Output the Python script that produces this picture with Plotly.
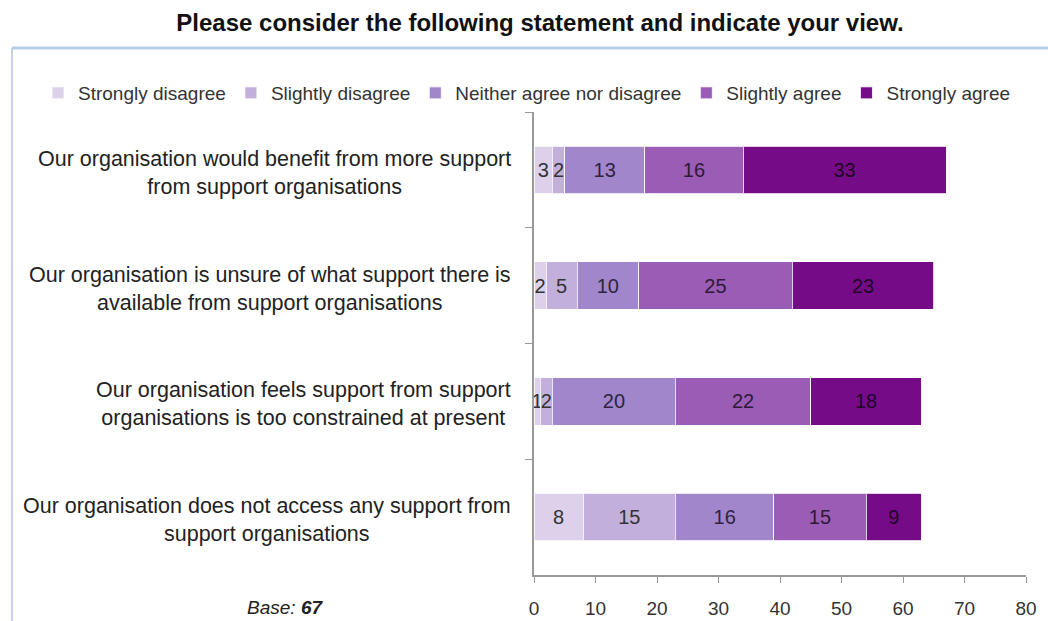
import plotly.graph_objects as go

# Survey statements (top to bottom)
statements = [
    "Our organisation would benefit from more support<br>from support organisations",
    "Our organisation is unsure of what support there is<br>available from support organisations",
    "Our organisation feels support from support<br>organisations is too constrained at present",
    "Our organisation does not access any support from<br>support organisations",
]
categories = ["S1", "S2", "S3", "S4"]

responses = ["Strongly disagree", "Slightly disagree", "Neither agree nor disagree",
             "Slightly agree", "Strongly agree"]

strongly_disagree = [3, 2, 1, 8]
slightly_disagree = [2, 5, 2, 15]
neither = [13, 10, 20, 16]
slightly_agree = [16, 25, 22, 15]
strongly_agree = [33, 23, 18, 9]

x_ticks = [0, 10, 20, 30, 40, 50, 60, 70, 80]

series = [strongly_disagree, slightly_disagree, neither, slightly_agree, strongly_agree]
colors = ["#dcd0ea", "#c3afdb", "#a286cc", "#9a5cb4", "#760b88"]
label_colors = ["#333333", "#333333", "#2e2440", "#2e1a38", "#1e0626"]

FONT = "Liberation Sans, Arial, sans-serif"

# plot area in pixels (used to place paper-referenced decorations)
L, R, T, B, W, H = 534, 22, 112, 46, 1048, 621
PW, PH = W - L - R, H - T - B


def px_x(px):
    return (px - L) / PW


def px_y(py):
    return (H - B - py) / PH


fig = go.Figure()
for name, vals, col, tcol in zip(responses, series, colors, label_colors):
    fig.add_trace(go.Bar(
        y=categories, x=vals, name=name, orientation="h",
        marker=dict(color=col, line=dict(color="rgba(255,255,255,0.8)", width=1)),
        text=[str(v) for v in vals], textposition="inside", insidetextanchor="middle",
        textangle=0, constraintext="none",
        textfont=dict(family=FONT, size=20, color=tcol),
        width=0.41,
    ))

# Statement labels, centred line by line and right-aligned to the axis
for cat, label in zip(categories, statements):
    fig.add_annotation(
        x=0, xref="paper", xanchor="right", xshift=-21,
        y=cat, yref="y", yanchor="middle", yshift=-3,
        text=label, align="center", showarrow=False,
        font=dict(family=FONT, size=21.5, color="#222222"),
    )

# Base note
fig.add_annotation(
    xref="paper", yref="paper", x=px_x(285), y=px_y(607),
    xanchor="center", yanchor="middle",
    text="<i>Base:</i> <b><i>67</i></b>", showarrow=False,
    font=dict(family=FONT, size=19, color="#222222"),
)

# Chart frame: pale blue top and left borders
fig.add_shape(type="line", xref="paper", yref="paper",
              x0=px_x(12), x1=px_x(W), y0=px_y(48), y1=px_y(48),
              line=dict(color="#b9cde5", width=3))
fig.add_shape(type="line", xref="paper", yref="paper",
              x0=px_x(12), x1=px_x(12), y0=px_y(48), y1=px_y(H + 4),
              line=dict(color="#c6d4ea", width=2))

fig.update_layout(
    width=W, height=H,
    barmode="stack", bargap=0.59,
    margin=dict(l=L, r=R, t=T, b=B, autoexpand=False),
    paper_bgcolor="white", plot_bgcolor="white",
    title=dict(text="<b>Please consider the following statement and indicate your view.</b>",
               x=540 / W, xanchor="center", y=1 - 23 / H, yanchor="middle",
               font=dict(family=FONT, size=24, color="#111111")),
    legend=dict(orientation="h", xref="paper", yref="paper",
                x=px_x(38), y=px_y(93), xanchor="left", yanchor="middle",
                font=dict(family=FONT, size=19, color="#333333"),
                itemwidth=30, traceorder="normal", bgcolor="rgba(0,0,0,0)"),
    showlegend=True,
)
fig.update_xaxes(range=[0, 80], tickvals=x_ticks, ticks="outside", ticklen=6,
                 ticklabelstandoff=9, automargin=False,
                 tickcolor="#999999", showline=True, linecolor="#999999", linewidth=1.5,
                 showgrid=False, zeroline=False,
                 tickfont=dict(family=FONT, size=19, color="#333333"))
fig.update_yaxes(categoryorder="array", categoryarray=categories, autorange="reversed",
                 showticklabels=False, ticks="outside", ticklen=7, tickson="boundaries",
                 automargin=False,
                 tickcolor="#999999", showline=True, linecolor="#999999", linewidth=1.5,
                 showgrid=False)

fig.write_html("out.html")
